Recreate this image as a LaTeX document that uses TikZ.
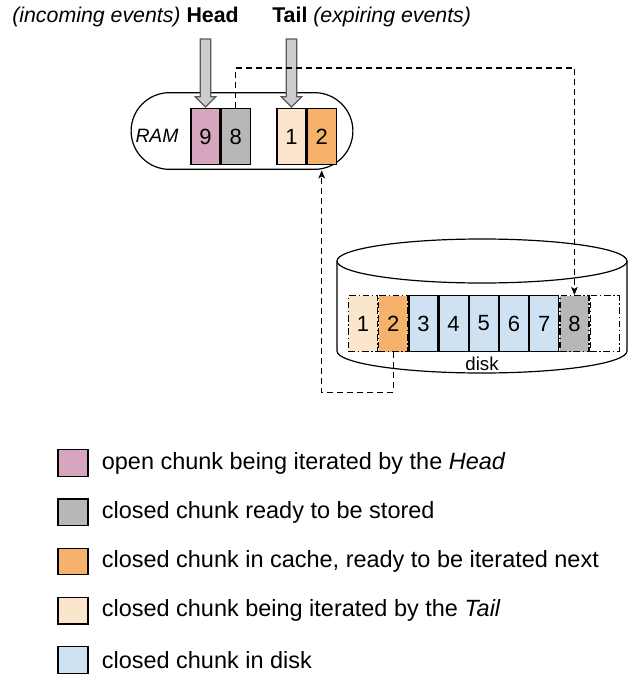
\documentclass[tikz,border=0pt]{standalone}
\usepackage{fontspec}
\setmainfont{Liberation Sans}
\usetikzlibrary{positioning,arrows.meta,shapes.arrows,shapes.misc}

\definecolor{headpink}{HTML}{D5A6BD}
\definecolor{storegray}{HTML}{B7B7B7}
\definecolor{cacheorange}{HTML}{F6B26B}
\definecolor{tailpeach}{HTML}{FCE5CD}
\definecolor{diskblue}{HTML}{CFE2F3}
\definecolor{arrowgray}{HTML}{CCCCCC}

\tikzset{
  chunk/.style={draw, line width=0.9pt, minimum width=21.75pt, minimum height=42pt, inner sep=0pt, font=\fontsize{16.5}{18}\selectfont},
  loose/.style={chunk, dash pattern=on 5pt off 2pt on 1pt off 2pt},
  pointer/.style={single arrow, shape border rotate=270, draw=black!65, fill=arrowgray, line width=0.9pt, minimum height=51pt, minimum width=15pt, inner sep=3.5pt, single arrow head extend=3.75pt},
  move/.style={draw, line width=0.9pt, dash pattern=on 4.5pt off 3pt, -{Stealth[length=6pt,width=5pt,inset=1.5pt]}},
  legendbox/.style={draw, line width=0.9pt, minimum width=22.5pt, minimum height=20pt, inner sep=0pt},
  legendtext/.style={anchor=west, inner sep=0pt, font=\fontsize{17.6}{20}\selectfont}
}

\begin{document}
\begin{tikzpicture}[x=0.75pt, y=-0.75pt]
  \useasboundingbox (0,0) rectangle (628,675);

  % RAM with its four chunks
  \node[draw, rounded rectangle, line width=0.9pt, minimum width=173pt, minimum height=57.5pt] (ram) at (242,131) {};
  \node[font=\fontsize{14.5}{16}\selectfont\itshape] (ramlbl) at (157,136) {RAM};
  \node[chunk, fill=headpink] (r9) at (205.5,136.5) {9};
  \node[chunk, fill=storegray, right=0pt of r9] (r8) {8};
  \node[chunk, fill=tailpeach] (r1) at (291.5,136.5) {1};
  \node[chunk, fill=cacheorange, right=0pt of r1] (r2) {2};

  % Head and Tail pointers
  \node[anchor=east, inner sep=0pt, font=\fontsize{16}{18}\selectfont] (headlbl) at (239,17) {\textit{(incoming events)} \textbf{Head}};
  \node[anchor=west, inner sep=0pt, font=\fontsize{16}{18}\selectfont] (taillbl) at (272,17) {\textbf{Tail} \textit{(expiring events)}};
  \node[pointer, anchor=tip] (headptr) at (r9.north) {};
  \node[pointer, anchor=tip] (tailptr) at (r1.north) {};

  % disk cylinder
  \draw[line width=0.9pt, fill=white] (337,261) -- (337,351) arc[start angle=180, end angle=360, x radius=108.75pt, y radius=16.5pt] -- (627,261);
  \draw[line width=0.9pt] (482,261) ellipse [x radius=108.75pt, y radius=16.5pt];

  % chunks on disk
  \node[loose, fill=tailpeach] (d1) at (363,323.5) {1};
  \node[loose, fill=cacheorange, right=0pt of d1] (d2) {2};
  \foreach \i in {3,...,7} {
    \pgfmathsetmacro{\prev}{int(\i-1)}
    \node[chunk, fill=diskblue, right=0pt of d\prev] (d\i) {\i};
  }
  \node[loose, fill=storegray, right=0pt of d7] (d8) {8};
  \node[loose, right=0pt of d8] (d9) {};
  \node[font=\fontsize{14}{16}\selectfont] (disklbl) at (482,364) {disk};

  % store and load
  \draw[move] (r8.north) -- ++(0,-40) -| (d8.north);
  \draw[move] (d2.south) -- ++(0,40) -| ([yshift=-4pt]r2.south);

  % legend
  \foreach \col/\txt [count=\k] in {headpink/{open chunk being iterated by the \textit{Head}},
      storegray/{closed chunk ready to be stored},
      cacheorange/{closed chunk in cache, ready to be iterated next},
      tailpeach/{closed chunk being iterated by the \textit{Tail}},
      diskblue/{closed chunk in disk}} {
    \node[legendbox, fill=\col] (key\k) at (73,{463+49.25*(\k-1)}) {};
    \node[legendtext, right=9.75pt of key\k] (keytxt\k) {\txt};
  }
\end{tikzpicture}
\end{document}
